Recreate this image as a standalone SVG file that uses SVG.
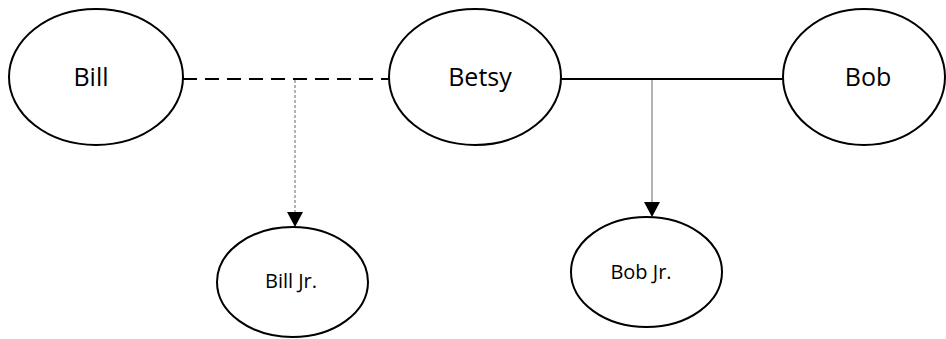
<svg xmlns="http://www.w3.org/2000/svg" width="946" height="339" viewBox="0 0 946 339">
<style>
.node ellipse{fill:#fff;stroke:#000;stroke-width:2}
.lbl{font-family:"Open Sans","Liberation Sans",sans-serif;fill:#000;text-anchor:middle}
.big{font-size:25px}
.small{font-size:20px}
</style>
<rect width="946" height="339" fill="#fff"/>
<g id="connectors">
<line x1="183" y1="79" x2="389" y2="79" stroke="#000" stroke-width="2" stroke-dasharray="14 8"/>
<line x1="561" y1="79" x2="783" y2="79" stroke="#000" stroke-width="2"/>
<line x1="295" y1="80" x2="295" y2="212" stroke="#999" stroke-width="1.5" stroke-dasharray="3 2"/>
<path d="M287,212 L303,212 L295,227 Z" fill="#000"/>
<line x1="652" y1="80" x2="652" y2="202" stroke="#999" stroke-width="1.5"/>
<path d="M644,202 L660,202 L652,217 Z" fill="#000"/>
</g>
<g id="bill" class="node">
<ellipse cx="96" cy="77" rx="87" ry="68"/>
<text class="lbl big" x="91" y="86">Bill</text>
</g>
<g id="betsy" class="node">
<ellipse cx="475" cy="77" rx="86" ry="68"/>
<text class="lbl big" x="480" y="86">Betsy</text>
</g>
<g id="bob" class="node">
<ellipse cx="864" cy="77" rx="81" ry="68"/>
<text class="lbl big" x="868" y="86">Bob</text>
</g>
<g id="billjr" class="node">
<ellipse cx="292.5" cy="282" rx="75.5" ry="55"/>
<text class="lbl small" x="291" y="288">Bill Jr.</text>
</g>
<g id="bobjr" class="node">
<ellipse cx="646.5" cy="272" rx="75.5" ry="55"/>
<text class="lbl small" x="641" y="279">Bob Jr.</text>
</g>
</svg>
